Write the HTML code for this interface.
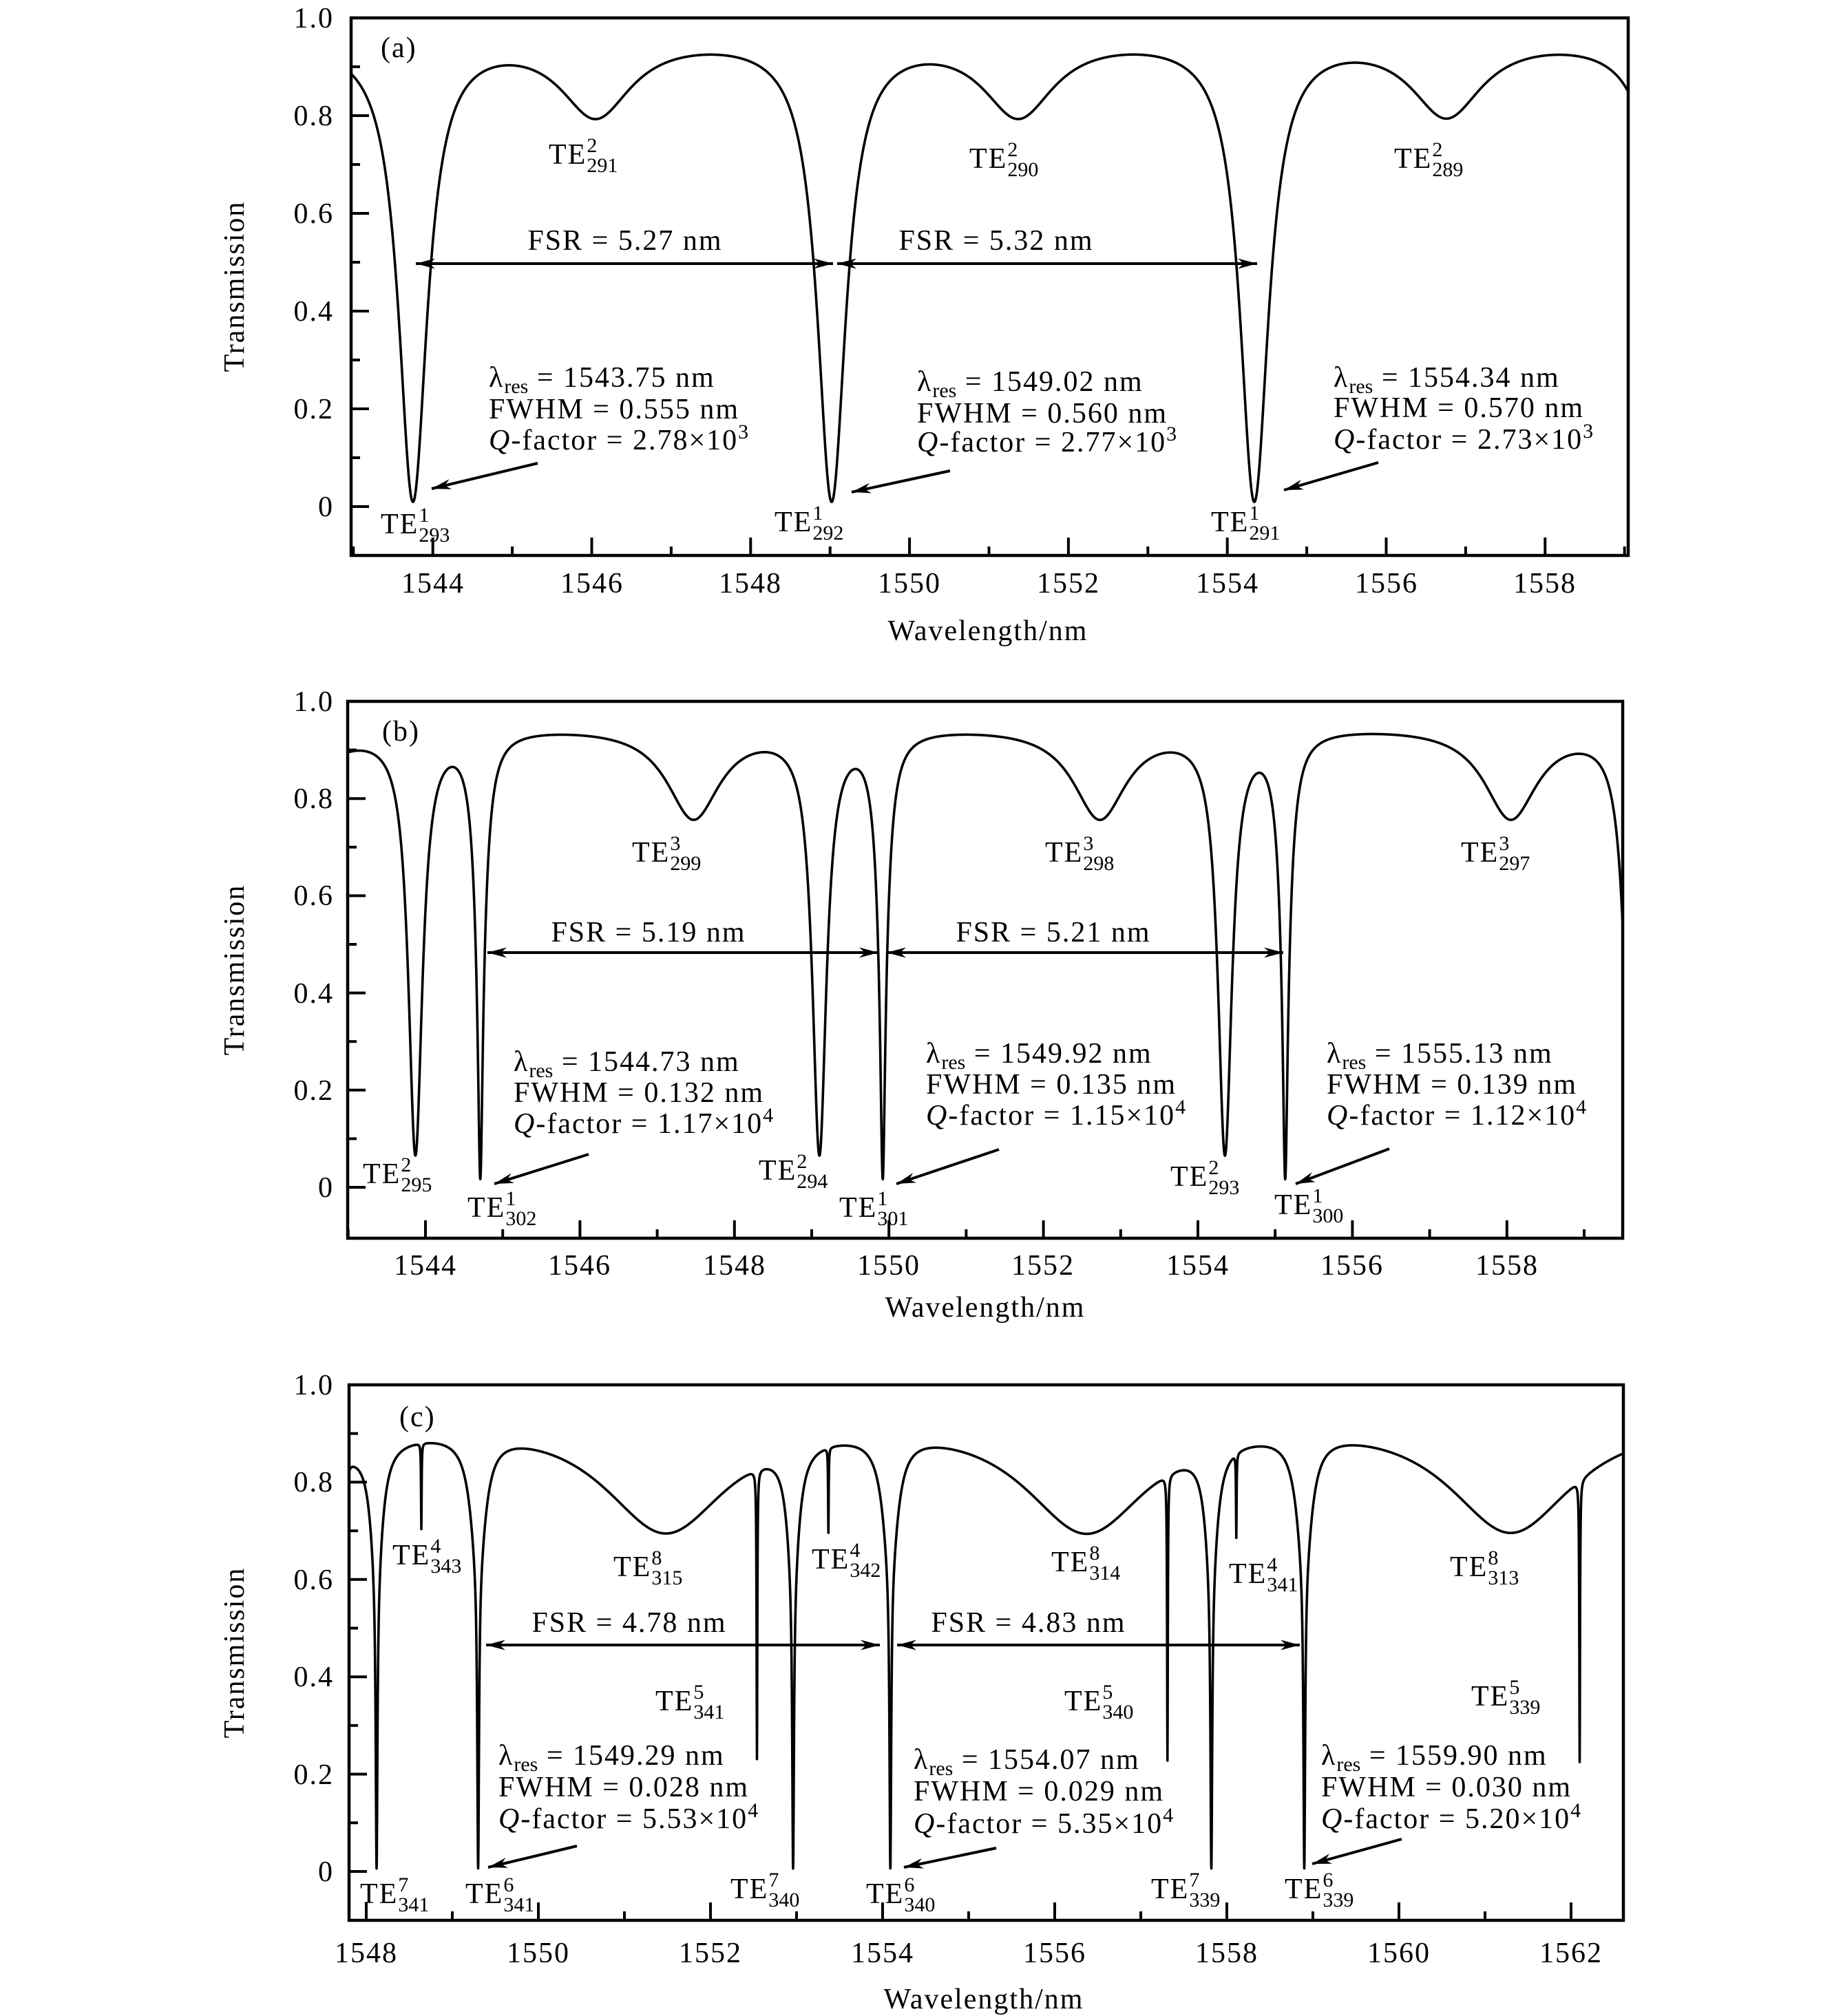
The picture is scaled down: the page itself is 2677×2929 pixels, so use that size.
<!DOCTYPE html>
<html><head><meta charset="utf-8">
<style>
html,body{margin:0;padding:0;background:#fff;}
svg{display:block;}
text{font-family:"Liberation Serif",serif;font-size:42px;letter-spacing:2px;fill:#000;}
.s{font-size:30px;letter-spacing:0;}
.m{text-anchor:middle;}
.r{text-anchor:end;}
</style></head>
<body>
<svg id="svg" width="2677" height="2929" viewBox="0 0 2677 2929" xmlns="http://www.w3.org/2000/svg">
<g id="g"></g>

<!-- ===== Panel (a) ===== -->
<text class="r" x="485" y="40">1.0</text>
<text class="r" x="485" y="182">0.8</text>
<text class="r" x="485" y="324">0.6</text>
<text class="r" x="485" y="466">0.4</text>
<text class="r" x="485" y="608">0.2</text>
<text class="r" x="485" y="750">0</text>
<text class="m" x="629" y="861">1544</text>
<text class="m" x="860" y="861">1546</text>
<text class="m" x="1090" y="861">1548</text>
<text class="m" x="1321" y="861">1550</text>
<text class="m" x="1552" y="861">1552</text>
<text class="m" x="1783" y="861">1554</text>
<text class="m" x="2014" y="861">1556</text>
<text class="m" x="2244" y="861">1558</text>
<text class="m" x="1435" y="930">Wavelength/nm</text>
<text class="m" transform="translate(354,416) rotate(-90)">Transmission</text>
<text x="553" y="83">(a)</text>
<text x="797" y="238">TE<tspan class="s" dy="-17">2</tspan><tspan class="s" dx="-15" dy="29">291</tspan></text>
<text x="1408" y="244">TE<tspan class="s" dy="-17">2</tspan><tspan class="s" dx="-15" dy="29">290</tspan></text>
<text x="2025" y="244">TE<tspan class="s" dy="-17">2</tspan><tspan class="s" dx="-15" dy="29">289</tspan></text>
<text class="m" x="908" y="363">FSR = 5.27 nm</text>
<text class="m" x="1447" y="363">FSR = 5.32 nm</text>
<text x="710" y="562">λ<tspan class="s" dy="9">res</tspan><tspan dy="-9"> = 1543.75 nm</tspan></text>
<text x="710" y="608">FWHM = 0.555 nm</text>
<text x="710" y="653"><tspan font-style="italic">Q</tspan>-factor = 2.78×10<tspan class="s" dy="-16">3</tspan></text>
<text x="1332" y="568">λ<tspan class="s" dy="9">res</tspan><tspan dy="-9"> = 1549.02 nm</tspan></text>
<text x="1332" y="614">FWHM = 0.560 nm</text>
<text x="1332" y="656"><tspan font-style="italic">Q</tspan>-factor = 2.77×10<tspan class="s" dy="-16">3</tspan></text>
<text x="1937" y="562">λ<tspan class="s" dy="9">res</tspan><tspan dy="-9"> = 1554.34 nm</tspan></text>
<text x="1937" y="606">FWHM = 0.570 nm</text>
<text x="1937" y="652"><tspan font-style="italic">Q</tspan>-factor = 2.73×10<tspan class="s" dy="-16">3</tspan></text>
<text x="553" y="775">TE<tspan class="s" dy="-17">1</tspan><tspan class="s" dx="-15" dy="29">293</tspan></text>
<text x="1125" y="772">TE<tspan class="s" dy="-17">1</tspan><tspan class="s" dx="-15" dy="29">292</tspan></text>
<text x="1759" y="772">TE<tspan class="s" dy="-17">1</tspan><tspan class="s" dx="-15" dy="29">291</tspan></text>

<!-- ===== Panel (b) ===== -->
<text class="r" x="485" y="1033">1.0</text>
<text class="r" x="485" y="1174">0.8</text>
<text class="r" x="485" y="1315">0.6</text>
<text class="r" x="485" y="1457">0.4</text>
<text class="r" x="485" y="1598">0.2</text>
<text class="r" x="485" y="1739">0</text>
<text class="m" x="618" y="1852">1544</text>
<text class="m" x="842" y="1852">1546</text>
<text class="m" x="1067" y="1852">1548</text>
<text class="m" x="1291" y="1852">1550</text>
<text class="m" x="1515" y="1852">1552</text>
<text class="m" x="1740" y="1852">1554</text>
<text class="m" x="1964" y="1852">1556</text>
<text class="m" x="2189" y="1852">1558</text>
<text class="m" x="1431" y="1913">Wavelength/nm</text>
<text class="m" transform="translate(354,1409) rotate(-90)">Transmission</text>
<text x="555" y="1076">(b)</text>
<text x="918" y="1252">TE<tspan class="s" dy="-17">3</tspan><tspan class="s" dx="-15" dy="29">299</tspan></text>
<text x="1518" y="1252">TE<tspan class="s" dy="-17">3</tspan><tspan class="s" dx="-15" dy="29">298</tspan></text>
<text x="2122" y="1252">TE<tspan class="s" dy="-17">3</tspan><tspan class="s" dx="-15" dy="29">297</tspan></text>
<text class="m" x="942" y="1368">FSR = 5.19 nm</text>
<text class="m" x="1530" y="1368">FSR = 5.21 nm</text>
<text x="746" y="1556">λ<tspan class="s" dy="9">res</tspan><tspan dy="-9"> = 1544.73 nm</tspan></text>
<text x="746" y="1601">FWHM = 0.132 nm</text>
<text x="746" y="1646"><tspan font-style="italic">Q</tspan>-factor = 1.17×10<tspan class="s" dy="-16">4</tspan></text>
<text x="1345" y="1544">λ<tspan class="s" dy="9">res</tspan><tspan dy="-9"> = 1549.92 nm</tspan></text>
<text x="1345" y="1589">FWHM = 0.135 nm</text>
<text x="1345" y="1634"><tspan font-style="italic">Q</tspan>-factor = 1.15×10<tspan class="s" dy="-16">4</tspan></text>
<text x="1927" y="1544">λ<tspan class="s" dy="9">res</tspan><tspan dy="-9"> = 1555.13 nm</tspan></text>
<text x="1927" y="1589">FWHM = 0.139 nm</text>
<text x="1927" y="1634"><tspan font-style="italic">Q</tspan>-factor = 1.12×10<tspan class="s" dy="-16">4</tspan></text>
<text x="527" y="1719">TE<tspan class="s" dy="-17">2</tspan><tspan class="s" dx="-15" dy="29">295</tspan></text>
<text x="679" y="1768">TE<tspan class="s" dy="-17">1</tspan><tspan class="s" dx="-15" dy="29">302</tspan></text>
<text x="1102" y="1714">TE<tspan class="s" dy="-17">2</tspan><tspan class="s" dx="-15" dy="29">294</tspan></text>
<text x="1219" y="1768">TE<tspan class="s" dy="-17">1</tspan><tspan class="s" dx="-15" dy="29">301</tspan></text>
<text x="1700" y="1723">TE<tspan class="s" dy="-17">2</tspan><tspan class="s" dx="-15" dy="29">293</tspan></text>
<text x="1851" y="1764">TE<tspan class="s" dy="-17">1</tspan><tspan class="s" dx="-15" dy="29">300</tspan></text>

<!-- ===== Panel (c) ===== -->
<text class="r" x="485" y="2026">1.0</text>
<text class="r" x="485" y="2167">0.8</text>
<text class="r" x="485" y="2309">0.6</text>
<text class="r" x="485" y="2450">0.4</text>
<text class="r" x="485" y="2592">0.2</text>
<text class="r" x="485" y="2733">0</text>
<text class="m" x="532" y="2851">1548</text>
<text class="m" x="782" y="2851">1550</text>
<text class="m" x="1032" y="2851">1552</text>
<text class="m" x="1282" y="2851">1554</text>
<text class="m" x="1532" y="2851">1556</text>
<text class="m" x="1782" y="2851">1558</text>
<text class="m" x="2032" y="2851">1560</text>
<text class="m" x="2282" y="2851">1562</text>
<text class="m" x="1429" y="2918">Wavelength/nm</text>
<text class="m" transform="translate(354,2401) rotate(-90)">Transmission</text>
<text x="580" y="2072">(c)</text>
<text x="570" y="2273">TE<tspan class="s" dy="-17">4</tspan><tspan class="s" dx="-15" dy="29">343</tspan></text>
<text x="891" y="2290">TE<tspan class="s" dy="-17">8</tspan><tspan class="s" dx="-15" dy="29">315</tspan></text>
<text x="1179" y="2279">TE<tspan class="s" dy="-17">4</tspan><tspan class="s" dx="-15" dy="29">342</tspan></text>
<text x="1527" y="2283">TE<tspan class="s" dy="-17">8</tspan><tspan class="s" dx="-15" dy="29">314</tspan></text>
<text x="1785" y="2300">TE<tspan class="s" dy="-17">4</tspan><tspan class="s" dx="-15" dy="29">341</tspan></text>
<text x="2106" y="2290">TE<tspan class="s" dy="-17">8</tspan><tspan class="s" dx="-15" dy="29">313</tspan></text>
<text class="m" x="914" y="2371">FSR = 4.78 nm</text>
<text class="m" x="1494" y="2371">FSR = 4.83 nm</text>
<text x="952" y="2485">TE<tspan class="s" dy="-17">5</tspan><tspan class="s" dx="-15" dy="29">341</tspan></text>
<text x="1546" y="2485">TE<tspan class="s" dy="-17">5</tspan><tspan class="s" dx="-15" dy="29">340</tspan></text>
<text x="2137" y="2478">TE<tspan class="s" dy="-17">5</tspan><tspan class="s" dx="-15" dy="29">339</tspan></text>
<text x="724" y="2564">λ<tspan class="s" dy="9">res</tspan><tspan dy="-9"> = 1549.29 nm</tspan></text>
<text x="724" y="2610">FWHM = 0.028 nm</text>
<text x="724" y="2656"><tspan font-style="italic">Q</tspan>-factor = 5.53×10<tspan class="s" dy="-16">4</tspan></text>
<text x="1327" y="2570">λ<tspan class="s" dy="9">res</tspan><tspan dy="-9"> = 1554.07 nm</tspan></text>
<text x="1327" y="2616">FWHM = 0.029 nm</text>
<text x="1327" y="2663"><tspan font-style="italic">Q</tspan>-factor = 5.35×10<tspan class="s" dy="-16">4</tspan></text>
<text x="1919" y="2564">λ<tspan class="s" dy="9">res</tspan><tspan dy="-9"> = 1559.90 nm</tspan></text>
<text x="1919" y="2610">FWHM = 0.030 nm</text>
<text x="1919" y="2656"><tspan font-style="italic">Q</tspan>-factor = 5.20×10<tspan class="s" dy="-16">4</tspan></text>
<text x="523" y="2765">TE<tspan class="s" dy="-17">7</tspan><tspan class="s" dx="-15" dy="29">341</tspan></text>
<text x="676" y="2765">TE<tspan class="s" dy="-17">6</tspan><tspan class="s" dx="-15" dy="29">341</tspan></text>
<text x="1061" y="2758">TE<tspan class="s" dy="-17">7</tspan><tspan class="s" dx="-15" dy="29">340</tspan></text>
<text x="1258" y="2765">TE<tspan class="s" dy="-17">6</tspan><tspan class="s" dx="-15" dy="29">340</tspan></text>
<text x="1672" y="2758">TE<tspan class="s" dy="-17">7</tspan><tspan class="s" dx="-15" dy="29">339</tspan></text>
<text x="1866" y="2758">TE<tspan class="s" dy="-17">6</tspan><tspan class="s" dx="-15" dy="29">339</tspan></text>
</svg>
<script>
(function(){
var NS="http://www.w3.org/2000/svg", g=document.getElementById("g");
function el(n,a){var e=document.createElementNS(NS,n);for(var k in a)e.setAttribute(k,a[k]);g.appendChild(e);return e;}
function Lor(x,c,w){var d=x-c;return w*w/(d*d+w*w);}
function dips(l,cs,d,w){var f=1;for(var i=0;i<cs.length;i++)f*=1-d*Lor(l,cs[i],w);return f;}
var P={
 a:{x0:1208,l0:1549.02,sx:115.4,y0:736,sy:710,L:510,R:2365,T:26,B:807,
   f:function(l){return 0.975*dips(l,[1538.45,1543.75,1549.02,1554.34,1559.66],0.99,0.22)*dips(l,[1540.7,1546.05,1551.37,1556.76,1562.1],0.17,0.55);},
   cen:[1543.75,1549.02,1554.34]},
 b:{x0:618,l0:1544,sx:112.2,y0:1725,sy:706,L:505,R:2357,T:1019,B:1799,
   f:function(l){var t1=[1539.5,1544.71,1549.92,1555.13,1560.34];
     return 0.955*dips(l,t1,0.97,0.035)*dips(l,t1,0.4,0.1)*dips(l,[1538.65,1543.87,1549.1,1554.35,1559.62],0.93,0.11)*dips(l,[1542.2,1547.47,1552.73,1558.05,1563.3],0.2,0.42);},
   cen:[1544.71,1549.92,1555.13,1543.87,1549.1,1554.35]},
 c:{x0:532,l0:1548,sx:125,y0:2719,sy:707,L:507,R:2358,T:2012,B:2790,
   f:function(l){var t7=[1548.12,1552.96,1557.82],t6=[1549.3,1554.09,1558.9];
     return 0.96*dips(l,[1546.6,1551.48,1556.37,1561.3,1566.2],0.26,0.9)*dips(l,t7,0.99,0.012)*dips(l,t7,0.3,0.08)*dips(l,t6,0.99,0.012)*dips(l,t6,0.3,0.1)*dips(l,[1547.77,1552.54,1557.31,1562.1],0.72,0.005)*dips(l,[1548.64,1553.37,1558.11],0.2,0.004);},
   cen:[1548.12,1552.96,1557.82,1549.3,1554.09,1558.9,1547.77,1552.54,1557.31,1562.1,1548.64,1553.37,1558.11]}
};
function arrowHead(x1,y1,x2,y2){var dx=x2-x1,dy=y2-y1,L=Math.sqrt(dx*dx+dy*dy),ux=dx/L,uy=dy/L,h=28,w=7.5;
 var bx=x2-ux*h,by=y2-uy*h,ix=x2-ux*h*0.7,iy=y2-uy*h*0.7;
 el("polygon",{points:x2+","+y2+" "+(bx-uy*w)+","+(by+ux*w)+" "+ix+","+iy+" "+(bx+uy*w)+","+(by-ux*w),fill:"#000"});}
function arrow(x1,y1,x2,y2){el("line",{x1:x1,y1:y1,x2:x2,y2:y2,stroke:"#000","stroke-width":4});arrowHead(x1,y1,x2,y2);}
function darrow(x1,x2,y){el("line",{x1:x1,y1:y,x2:x2,y2:y,stroke:"#000","stroke-width":4});arrowHead(x2,y,x1,y);arrowHead(x1,y,x2,y);}
for(var k in P){var p=P[k];
 var lmin=p.l0+(p.L-p.x0)/p.sx,lmax=p.l0+(p.R-p.x0)/p.sx;
 var ls=[];for(var l=lmin;l<=lmax;l+=0.002)ls.push(l);ls.push(lmax);
 p.cen.forEach(function(c){if(c>lmin&&c<lmax)ls.push(c);});
 ls.sort(function(a,b){return a-b;});
 var d="";for(var i=0;i<ls.length;i++){var x=p.x0+(ls[i]-p.l0)*p.sx,y=p.y0-p.f(ls[i])*p.sy;d+=(i?"L":"M")+x.toFixed(2)+" "+y.toFixed(2);}
 var cid="clip"+k;var cp=el("clipPath",{id:cid});var r=document.createElementNS(NS,"rect");
 r.setAttribute("x",p.L);r.setAttribute("y",p.T);r.setAttribute("width",p.R-p.L);r.setAttribute("height",p.B-p.T);cp.appendChild(r);
 el("path",{d:d,fill:"none",stroke:"#000","stroke-width":3.6,"stroke-linejoin":"round","clip-path":"url(#"+cid+")"});
 for(var v=0;v<=10;v++){var y=p.y0-v/10*p.sy;var len=(v%2==0)?26:13;el("line",{x1:p.L,y1:y,x2:p.L+len,y2:y,stroke:"#000","stroke-width":4});}
 for(var n=Math.ceil(lmin);n<=lmax;n++){var x=p.x0+(n-p.l0)*p.sx;var len=(n%2==0)?26:13;el("line",{x1:x,y1:p.B,x2:x,y2:p.B-len,stroke:"#000","stroke-width":4});}
 el("rect",{x:p.L,y:p.T,width:p.R-p.L,height:p.B-p.T,fill:"none",stroke:"#000","stroke-width":4.5});
}
darrow(604,1210,383);darrow(1216,1826,383);
darrow(708,1276,1384);darrow(1288,1864,1384);
darrow(706,1278,2390);darrow(1303,1888,2390);
arrow(781,673,627,710);arrow(1380,684,1237,715);arrow(2002,672,1865,712);
arrow(855,1677,718,1720);arrow(1451,1670,1302,1720);arrow(2018,1669,1882,1720);
arrow(838,2682,709,2713);arrow(1447,2685,1313,2713);arrow(2036,2672,1906,2708);
})();
</script>
</body></html>
